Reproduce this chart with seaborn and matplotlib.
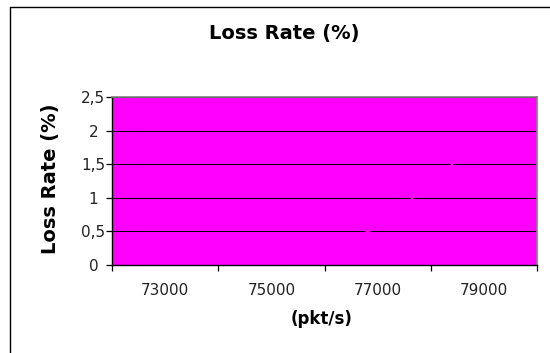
import matplotlib
matplotlib.use("Agg")
import matplotlib.pyplot as plt
from matplotlib.lines import Line2D
from matplotlib.ticker import FixedLocator
import seaborn as sns
import pandas as pd

# Offered load categories and measured loss rate
rates = ["73000", "75000", "77000", "79000"]
loss = [0.0, 0.0, 0.55, 1.9]
y_ticks = [0, 0.5, 1, 1.5, 2, 2.5]
y_tick_labels = ["0", "0,5", "1", "1,5", "2", "2,5"]

MAGENTA = "#FF00FF"

sns.set_theme(style="white")
plt.rcParams["font.family"] = ["DejaVu Sans"]

fig = plt.figure(figsize=(5.5, 3.53), dpi=100)
W, H = 550, 353
ax = fig.add_axes([112 / W, (H - 265) / H, 425 / W, 168 / H])
ax.set_facecolor(MAGENTA)

df = pd.DataFrame({"rate": rates, "loss": loss})
sns.lineplot(data=df, x="rate", y="loss", color=MAGENTA, lw=1.2, ax=ax, zorder=2)

ax.set_xlim(-0.5, len(rates) - 0.5)
ax.set_ylim(0, 2.5)
ax.set_xlabel("")
ax.set_ylabel("")

# y axis: black gridlines at every half percent
ax.set_yticks(y_ticks)
ax.set_yticklabels(y_tick_labels)
ax.yaxis.grid(True, color="black", lw=0.75, snap=True)
ax.xaxis.grid(False)
ax.tick_params(axis="y", which="major", length=4, width=0.9, direction="out",
               color="black", pad=9.4, labelsize=11, labelcolor="#222222", left=True)
for lab in ax.get_yticklabels():
    lab.set_ha("center")

# x axis: labels centred in each category, tick marks between categories
ax.set_xticks(range(len(rates)))
ax.set_xticklabels(rates)
ax.xaxis.set_minor_locator(FixedLocator([i - 0.5 for i in range(len(rates) + 1)]))
ax.tick_params(axis="x", which="major", length=0, pad=13, labelsize=11,
               labelcolor="#222222")
ax.tick_params(axis="x", which="minor", length=4, width=0.9, direction="out",
               color="black", bottom=True)

for side in ("left", "bottom"):
    ax.spines[side].set_color("black")
    ax.spines[side].set_linewidth(1)
for side in ("top", "right"):
    ax.spines[side].set_color("#808080")
    ax.spines[side].set_linewidth(1.2)

# Titles and axis labels
fig.text(284 / W, 1 - 33 / H, "Loss Rate (%)", ha="center", va="center",
         fontsize=14, fontweight="bold", color="black")
fig.text(51 / W, 1 - 179 / H, "Loss Rate (%)", ha="center", va="center",
         rotation=90, fontsize=14, fontweight="bold", color="black")
fig.text(322 / W, 1 - 319 / H, "(pkt/s)", ha="center", va="center",
         fontsize=12, fontweight="bold", color="black")

# Chart frame
fig.add_artist(Line2D([10 / W, 10 / W], [0, 1 - 7 / H], transform=fig.transFigure,
                      color="black", lw=1))
fig.add_artist(Line2D([10 / W, 1], [1 - 7 / H, 1 - 7 / H], transform=fig.transFigure,
                      color="black", lw=1))

fig.savefig("out.png", dpi=100, facecolor="white")
